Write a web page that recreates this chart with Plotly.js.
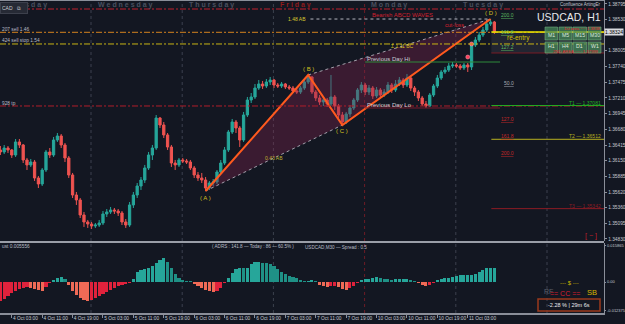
<!DOCTYPE html>
<html><head><meta charset="utf-8">
<script src="https://cdn.plot.ly/plotly-3.0.1.min.js"></script>
<style>html,body{margin:0;padding:0;background:#131722;overflow:hidden}</style>
</head><body><div id="chart" style="width:625px;height:324px"></div>
<script>
// ---------- DATA (USDCAD H1, 4 Oct 00:00 -> 11 Oct 10:00) ----------
const opens=[1.36332,1.36298,1.36365,1.36332,1.36247,1.36467,1.36416,1.36163,1.36079,1.36129,
1.35859,1.35758,1.35994,1.36298,1.36247,1.36500,1.36568,1.36416,1.36197,1.35910,
1.35572,1.35488,1.35235,1.35117,1.35083,1.35049,1.35066,1.35100,1.35252,1.35286,
1.35319,1.35302,1.35269,1.35117,1.35066,1.35404,1.35572,1.35724,1.35825,1.36028,
1.36247,1.36365,1.36871,1.36753,1.36585,1.36382,1.36112,1.36079,1.36163,1.36146,
1.36129,1.36028,1.35910,1.35859,1.35825,1.35690,1.35775,1.35792,1.35960,1.36112,
1.36332,1.36635,1.36804,1.36703,1.36500,1.36922,1.37175,1.37226,1.37377,1.37445,
1.37411,1.37479,1.37512,1.37428,1.37411,1.37445,1.37394,1.37377,1.37327,1.37310,
1.37377,1.37479,1.37563,1.37310,1.37209,1.37141,1.37175,1.37108,1.37226,1.37074,
1.36922,1.36804,1.36939,1.37040,1.37175,1.37344,1.37428,1.37310,1.37377,1.37243,
1.37344,1.37259,1.37310,1.37428,1.37344,1.37445,1.37512,1.37428,1.37546,1.37377,
1.37310,1.37209,1.37108,1.37074,1.37259,1.37411,1.37546,1.37647,1.37681,1.37749,
1.37765,1.37749,1.37715,1.37765,1.37732,1.38103,1.38187,1.38272,1.38356,1.38457,
1.38491];
const highs=[1.36399,1.36416,1.36399,1.36348,1.36517,1.36517,1.36433,1.36197,1.36180,1.36163,
1.35893,1.36028,1.36332,1.36365,1.36551,1.36618,1.36601,1.36450,1.36230,1.35944,
1.35623,1.35522,1.35286,1.35151,1.35117,1.35100,1.35151,1.35302,1.35336,1.35370,
1.35353,1.35336,1.35302,1.35167,1.35454,1.35623,1.35775,1.35876,1.36079,1.36298,
1.36416,1.36922,1.36888,1.36804,1.36618,1.36416,1.36163,1.36197,1.36197,1.36180,
1.36163,1.36062,1.35960,1.35944,1.35876,1.35809,1.35842,1.35994,1.36163,1.36382,
1.36669,1.36855,1.36838,1.36736,1.36973,1.37226,1.37293,1.37445,1.37512,1.37496,
1.37529,1.37563,1.37529,1.37462,1.37479,1.37462,1.37428,1.37411,1.37361,1.37411,
1.37512,1.37597,1.37580,1.37344,1.37259,1.37226,1.37209,1.37597,1.37259,1.37108,
1.36973,1.36973,1.37091,1.37209,1.37377,1.37479,1.37462,1.37428,1.37411,1.37394,
1.37377,1.37361,1.37479,1.37462,1.37512,1.37563,1.37546,1.37614,1.37580,1.37411,
1.37344,1.37243,1.37158,1.37293,1.37445,1.37597,1.37681,1.37732,1.37799,1.37816,
1.37799,1.37782,1.37799,1.37799,1.38153,1.38238,1.38322,1.38407,1.38508,1.38541,
1.38508];
const lows=[1.36247,1.36264,1.36281,1.36197,1.36214,1.36365,1.36112,1.35994,1.36045,1.35809,
1.35690,1.35724,1.35960,1.36197,1.36214,1.36467,1.36365,1.36129,1.35859,1.35522,
1.35404,1.35184,1.35033,1.35016,1.34999,1.35016,1.35033,1.35066,1.35201,1.35252,
1.35252,1.35218,1.35066,1.35016,1.35033,1.35353,1.35522,1.35657,1.35775,1.35994,
1.36163,1.36332,1.36703,1.36534,1.36332,1.36045,1.35994,1.36045,1.36112,1.36095,
1.35994,1.35859,1.35809,1.35775,1.35640,1.35657,1.35724,1.35758,1.35927,1.36079,
1.36298,1.36601,1.36618,1.36382,1.36467,1.36888,1.37124,1.37192,1.37344,1.37361,
1.37377,1.37428,1.37377,1.37377,1.37377,1.37361,1.37344,1.37293,1.37276,1.37276,
1.37344,1.37445,1.37276,1.37158,1.37091,1.37074,1.37057,1.37074,1.37006,1.36871,
1.36753,1.36770,1.36888,1.37006,1.37141,1.37293,1.37259,1.37259,1.37192,1.37209,
1.37209,1.37226,1.37276,1.37293,1.37310,1.37411,1.37377,1.37394,1.37327,1.37243,
1.37158,1.37074,1.37040,1.37057,1.37226,1.37377,1.37512,1.37614,1.37647,1.37715,
1.37715,1.37681,1.37681,1.37647,1.37681,1.38069,1.38153,1.38238,1.38322,1.38423,
1.38288];
const closes=[1.36298,1.36365,1.36332,1.36247,1.36467,1.36416,1.36163,1.36079,1.36129,1.35859,
1.35758,1.35994,1.36298,1.36247,1.36500,1.36568,1.36416,1.36197,1.35910,1.35572,
1.35488,1.35235,1.35117,1.35083,1.35049,1.35066,1.35100,1.35252,1.35286,1.35319,
1.35302,1.35269,1.35117,1.35066,1.35404,1.35572,1.35724,1.35825,1.36028,1.36247,
1.36365,1.36871,1.36753,1.36585,1.36382,1.36112,1.36079,1.36163,1.36146,1.36129,
1.36028,1.35910,1.35859,1.35825,1.35690,1.35775,1.35792,1.35960,1.36112,1.36332,
1.36635,1.36804,1.36703,1.36500,1.36922,1.37175,1.37226,1.37377,1.37445,1.37411,
1.37479,1.37512,1.37428,1.37411,1.37445,1.37394,1.37377,1.37327,1.37310,1.37377,
1.37479,1.37563,1.37310,1.37209,1.37141,1.37175,1.37108,1.37226,1.37074,1.36922,
1.36804,1.36939,1.37040,1.37175,1.37344,1.37428,1.37310,1.37377,1.37243,1.37344,
1.37259,1.37310,1.37428,1.37344,1.37445,1.37512,1.37428,1.37546,1.37377,1.37310,
1.37209,1.37108,1.37074,1.37259,1.37411,1.37546,1.37647,1.37681,1.37749,1.37765,
1.37749,1.37715,1.37765,1.37732,1.38103,1.38187,1.38272,1.38356,1.38457,1.38491,
1.38322];
// oscillator histogram (lower panel)
const osc=[-0.0080,-0.0071,-0.0059,-0.0046,-0.0038,-0.0029,-0.0025,-0.0021,-0.0025,-0.0029,
-0.0034,-0.0038,-0.0021,-0.0004,0.0008,0.0017,0.0023,0.0013,-0.0013,-0.0038,
-0.0055,-0.0067,-0.0076,-0.0080,-0.0076,-0.0067,-0.0059,-0.0050,-0.0042,-0.0034,
-0.0025,-0.0017,-0.0013,-0.0008,-0.0004,0.0013,0.0042,0.0050,0.0055,0.0059,
0.0067,0.0084,0.0097,0.0103,0.0088,0.0059,0.0034,0.0017,0.0008,0.0006,
0.0004,-0.0008,-0.0017,-0.0025,-0.0034,-0.0038,-0.0042,-0.0038,-0.0025,-0.0004,
0.0017,0.0038,0.0055,0.0061,0.0059,0.0059,0.0076,0.0088,0.0088,0.0084,
0.0082,0.0076,0.0067,0.0055,0.0042,0.0034,0.0025,0.0021,0.0017,0.0011,
0.0006,0.0006,0.0008,0.0004,-0.0013,-0.0017,-0.0021,-0.0017,-0.0017,-0.0021,
-0.0029,-0.0034,-0.0025,-0.0017,-0.0004,0.0008,0.0013,0.0015,0.0017,0.0021,
0.0019,0.0015,0.0013,0.0011,0.0013,0.0015,0.0015,0.0015,0.0011,0.0004,
-0.0004,-0.0011,-0.0015,-0.0013,-0.0004,0.0008,0.0015,0.0019,0.0019,0.0021,
0.0027,0.0029,0.0029,0.0029,0.0029,0.0034,0.0044,0.0050,0.0059,0.0061,
0.0061];
const tickIdx=[3,11,19,27,35,43,51,59,67,75,83,91,99,107,115,123];
const tickText=['4 Oct 03:00','4 Oct 11:00','4 Oct 19:00','5 Oct 03:00','5 Oct 11:00','5 Oct 19:00',
'6 Oct 03:00','6 Oct 11:00','6 Oct 19:00','7 Oct 03:00','7 Oct 11:00','7 Oct 19:00',
'10 Oct 03:00','10 Oct 11:00','10 Oct 19:00','11 Oct 03:00'];
const dayIdx=[0,24,48,72,96,120,144];
const dayNames=['Tuesday','Wednesday','Thursday','Friday','Monday','Tuesday',''];
const priceTicks=[1.38795,1.38530,1.38005,1.37740,1.37475,1.37210,1.36945,1.36680,1.36415,1.36150,1.35885,1.35620,1.35360,1.35095,1.34830];
const oscTicks=[0.015865,0,-0.012375];
const oscTickText=['0.015865','0.00','-0.012375'];
const lastPrice=1.38324;
const ptA=54, ptB=81, ptC=90, ptD=129;          // ABCD pivot bars
const prevDayStart=96, prevDayEnd=119;            // Monday 10 Oct bars
const topLevel=1.38710, sellLevel=1.38317, sellStopLevel=1.38120, tpLevel=1.37074;
const targetNames=['T1 — 1.37081','T2 — 1.36512','T3 — 1.35342'];
const targetPrices=[1.37081,1.36512,1.35342];
const fibUpText=['200.0','161.8','127.2'], fibUpPrices=[1.38609,1.38322,1.38069];
const fibMidText='50.0', fibMidPrice=1.37462;
const fibDnText=['127.0','161.8','200.0'], fibDnPrices=[1.36855,1.36568,1.36281];
const reentryTop=1.38322, reentryBottom=1.37968;
const signalIdx=[123,124], signalPrice=[1.37900,1.38120];

// ---------- DRAWING ----------
const FONT='Liberation Sans, Arial, sans-serif';
const PW=604, PH=313;
const px=x=>x/PW, py=y=>1-y/PH;
const idx=closes.map((_,i)=>i);
const xRange=[-0.1,158.85];
const pdHi=Math.max(...highs.slice(prevDayStart,prevDayEnd+1));
const pdLo=Math.min(...lows.slice(prevDayStart,prevDayEnd+1));
const A=lows[ptA], B=highs[ptB], C=lows[ptC], D=highs[ptD];

const traces=[];
traces.push({type:'scatter',mode:'lines',x:[ptA,ptB,ptD,ptC,ptA],y:[A,B,D,C,A],fill:'toself',
  fillcolor:'rgba(128,36,78,0.36)',line:{width:0},hoverinfo:'skip'});
traces.push({type:'candlestick',x:idx,open:opens,high:highs,low:lows,close:closes,whiskerwidth:0,
  increasing:{line:{color:'#26a69a',width:1},fillcolor:'#26a69a'},
  decreasing:{line:{color:'#ef5350',width:1},fillcolor:'#ef5350'},hoverinfo:'skip'});
traces.push({type:'scatter',mode:'lines',x:[ptB,ptD],y:[B,D],line:{color:'rgba(205,205,215,0.75)',width:1,dash:'dot'},hoverinfo:'skip'});
traces.push({type:'scatter',mode:'lines',x:[ptA,ptC],y:[A,C],line:{color:'rgba(205,205,215,0.75)',width:1,dash:'dot'},hoverinfo:'skip'});
traces.push({type:'scatter',mode:'lines',x:[ptB+0.6,ptD],y:[D,D],line:{color:'rgba(220,220,230,0.8)',width:1,dash:'dot'},hoverinfo:'skip'});
traces.push({type:'scatter',mode:'lines',x:[ptA,ptB,ptC,ptD],y:[A,B,C,D],line:{color:'#ff5a1e',width:2},hoverinfo:'skip'});
traces.push({type:'scatter',mode:'markers',x:signalIdx,y:signalPrice,marker:{color:'#ff3d5a',size:4,line:{color:'#ffb0b8',width:0.5}},hoverinfo:'skip'});
const oscColors=osc.map((v,i)=>{const p=i?osc[i-1]:v; if(v>=0) return v>=p?'#26a69a':'#1f9186'; return v>=p?'#e0223c':'#ef6a56';});
traces.push({type:'bar',x:idx,y:osc,xaxis:'x',yaxis:'y2',width:0.8,marker:{color:oscColors,line:{width:0}},hoverinfo:'skip'});

const shapes=[];
const grey='#8a8e99';
shapes.push({type:'line',xref:'paper',yref:'paper',x0:0,x1:1,y0:py(0.5),y1:py(0.5),line:{color:grey,width:1}});
shapes.push({type:'line',xref:'paper',yref:'paper',x0:0,x1:1,y0:py(242),y1:py(242),line:{color:'#9a9ea8',width:2}});
dayIdx.slice(1).forEach((k,j)=>{
  const red=dayNames[j+1]==='Monday';
  shapes.push({type:'line',xref:'x',yref:'paper',x0:k-0.15,x1:k-0.15,y0:0,y1:1,layer:'below',
    line:{color:red?'#6e1c26':'#3c414e',width:1,dash:'dot'}});
});
const dd='6px,2px,2px,2px';
[[topLevel,'#c0202c'],[sellLevel,'#d4821e'],[sellStopLevel,'#c8b414'],[tpLevel,'#b01e2a']].forEach(([v,c])=>{
  shapes.push({type:'line',xref:'paper',yref:'y',x0:0,x1:1,y0:v,y1:v,line:{color:c,width:1,dash:dd}});
});
shapes.push({type:'rect',xref:'x',yref:'y',x0:ptD+0.2,x1:xRange[1],y0:reentryBottom,y1:reentryTop,fillcolor:'rgba(38,40,52,0.85)',line:{width:0},layer:'below'});
shapes.push({type:'line',xref:'x',yref:'y',x0:ptD+0.2,x1:xRange[1],y0:reentryBottom,y1:reentryBottom,line:{color:'#7a1c26',width:1}});
shapes.push({type:'line',xref:'x',yref:'y',x0:prevDayStart,x1:131.5,y0:pdHi,y1:pdHi,line:{color:'#2e8b3a',width:1}});
shapes.push({type:'line',xref:'x',yref:'y',x0:prevDayStart,x1:131.5,y0:pdLo,y1:pdLo,line:{color:'#7a1c2e',width:1}});
const tCol=['#22b022','#b8b020','#8c1c24'];
targetPrices.forEach((v,i)=>shapes.push({type:'line',xref:'x',yref:'y',x0:ptD+0.2,x1:xRange[1],y0:v,y1:v,line:{color:tCol[i],width:1}}));
shapes.push({type:'line',xref:'x',yref:'y',x0:ptD+0.2,x1:xRange[1],y0:lastPrice,y1:lastPrice,line:{color:'#e8e400',width:1.5}});
// buttons
const bx=[[545,557.5],[559,572],[573,586.5],[588,601]];
const by=[[27,40],[42,53]];
const bLab=[['M1','M5','M15','M30'],['H1','H4','D1','W1']];
by.forEach(r=>bx.forEach(c=>shapes.push({type:'rect',xref:'paper',yref:'paper',x0:px(c[0]),x1:px(c[1]),y0:py(r[1]),y1:py(r[0]),
  fillcolor:'rgba(72,140,92,0.72)',line:{color:'rgba(120,180,130,0.8)',width:0.7}})));
// bottom box
shapes.push({type:'rect',xref:'paper',yref:'paper',x0:px(538),x1:px(600),y0:py(311),y1:py(299),line:{color:'#9c3a1c',width:1.5}});

const ann=[];
const T=(x,y,text,o={})=>ann.push(Object.assign({x,y,text,showarrow:false,xref:'paper',yref:'paper',
  font:{family:FONT,size:o.size||5,color:o.color||'#b8bcc6'},xanchor:o.xa||'center',yanchor:'middle'},o.extra||{}));
// day headers
dayIdx.forEach((k,j)=>{ if(!dayNames[j]) return;
  ann.push({x:k+1.1,y:py(5.5),xref:'x',yref:'paper',text:dayNames[j].split('').join(' '),showarrow:false,xanchor:'left',yanchor:'middle',
   font:{family:FONT,size:7,color:dayNames[j]==='Friday'?'#8e1c1c':'#4a505f',weight:'bold'}});
});
// symbol box top-left (covers first header)
ann.push({x:0,y:py(7.5),xref:'paper',yref:'paper',xanchor:'left',yanchor:'middle',showarrow:false,text:'CAD &nbsp; ⧉',
  bgcolor:'#262a35',bordercolor:'#3c404c',borderwidth:1,width:24,height:8,align:'left',font:{family:FONT,size:5,color:'#c8ccd4'}});
// level labels at left edge
ann.push({x:0,y:sellLevel,xref:'paper',yref:'y',yshift:3,xanchor:'left',showarrow:false,text:'207 sell 1.46',font:{family:FONT,size:4.8,color:'#b8bcc6'}});
ann.push({x:0,y:sellStopLevel,xref:'paper',yref:'y',yshift:3,xanchor:'left',showarrow:false,text:'424 sell stop 1.54',font:{family:FONT,size:4.8,color:'#b8bcc6'}});
ann.push({x:0,y:tpLevel,xref:'paper',yref:'y',yshift:2.5,xanchor:'left',showarrow:false,text:'928 tp',font:{family:FONT,size:4.8,color:'#b8bcc6'}});
// ABCD labels
const yl='#d4c020';
ann.push({x:ptA,y:A,yshift:-7,showarrow:false,text:'( A )',font:{family:FONT,size:6,color:yl}});
ann.push({x:ptB,y:B,yshift:6,showarrow:false,text:'( B )',font:{family:FONT,size:6,color:yl}});
ann.push({x:ptC,y:C,yshift:-6,showarrow:false,text:'( C )',font:{family:FONT,size:6,color:yl}});
ann.push({x:ptD,y:D,yshift:6,showarrow:false,text:'( D )',font:{family:FONT,size:6,color:yl}});
ann.push({x:ptB,y:D,xanchor:'right',showarrow:false,text:'1.48 AB',font:{family:FONT,size:5,color:'#d8c830'}});
ann.push({x:72.1,y:1.36197,showarrow:false,text:'0.43 AB',font:{family:FONT,size:5,color:'#c0b030'}});
ann.push({x:105.8,y:1.38086,showarrow:false,text:'Σ 1.11 BC',font:{family:FONT,size:5,color:yl}});
ann.push({x:105.7,y:1.38609,showarrow:false,text:'Bearish ABCD WAVES',font:{family:FONT,size:6,color:'#d0202e'}});
ann.push({x:119.6,y:1.38440,showarrow:false,text:'cut-loss',font:{family:FONT,size:5.5,color:'#d8202e'}});
ann.push({x:prevDayStart,y:pdHi,yshift:3.5,xanchor:'left',showarrow:false,text:'Previous Day Hi',font:{family:FONT,size:6,color:'#c8ccd4'}});
ann.push({x:prevDayStart,y:pdLo,yshift:2.5,xanchor:'left',showarrow:false,text:'Previous Day Lo',font:{family:FONT,size:6,color:'#c8ccd4'}});
// fib labels
fibUpText.forEach((t,i)=>ann.push({x:ptD+2.3,y:fibUpPrices[i],xanchor:'left',showarrow:false,text:t,font:{family:FONT,size:5,color:'#5cb860',lineposition:'under'}}));
ann.push({x:ptD+3,y:fibMidPrice,xanchor:'left',showarrow:false,text:fibMidText,font:{family:FONT,size:5,color:'#a8acb4',lineposition:'under'}});
fibDnText.forEach((t,i)=>ann.push({x:ptD+2.3,y:fibDnPrices[i],xanchor:'left',showarrow:false,text:t,font:{family:FONT,size:5,color:'#c62828',lineposition:'under'}}));
ann.push({x:ptD+7.4,y:1.38221,showarrow:false,text:'re-entry',font:{family:FONT,size:6.5,color:'#d8c400'}});
targetNames.forEach((t,i)=>ann.push({x:1,y:targetPrices[i],xref:'paper',xanchor:'right',xshift:-1,yshift:3,showarrow:false,text:t,font:{family:FONT,size:5,color:tCol[i]}}));
// current price tag
ann.push({x:1,y:lastPrice,xref:'paper',yref:'y',xanchor:'left',xshift:0,showarrow:false,text:'1.38324',bgcolor:'#d8dade',borderpad:0,font:{family:FONT,size:5,color:'#000'}});
// info panel
T(px(603),py(17),'USDCAD, H1',{size:10.5,color:'#e8eaed',xa:'right'});
T(px(580),py(5),'Confluence ArtingEr',{size:4.5,color:'#c0c4cc'});
bLab.forEach((row,r)=>row.forEach((t,c)=>T(px((bx[c][0]+bx[c][1])/2),py((by[r][0]+by[r][1])/2+(r?-1:1)),t,{size:5.2,color:'#dde8dd'})));
T(px(582),py(28.3),'1st area ···· 1.3838',{size:4.2,color:'#e02030'});
T(px(576),py(52),'2ND AREA ····· 1.37999',{size:4.2,color:'#e02030'});
T(px(591),py(236),'[ − ]',{size:7,color:'#c0202a'});
// indicator texts
T(0,py(246.5),'ust 0.005556',{xa:'left',size:4.8});
T(px(252.5),py(246.5),'( ADRS : 141.8 — Today : 86 — 60.5% )',{size:4.6});
T(px(303),py(247),'USDCAD,M30 — Spread : 0.5',{xa:'left',size:4.6});
T(px(569),py(283),'--- $ ---',{size:6,color:'#c8b400'});
T(px(548.5),py(291),'RF',{size:7,color:'#5c606a'});
T(px(565),py(293),'== CC ==',{size:7,color:'#d81e30'});
T(px(591.5),py(292),'SB',{size:7.5,color:'#d8b800'});
T(px(569),py(305),'-2.28 % | 29m 6s',{size:5.5,color:'#e8eaed'});

const yTickFont={size:4.8,color:'#c4c8d0'};
const layout={
  width:625,height:324,margin:{l:0,r:21,t:0,b:11},
  paper_bgcolor:'#131722',plot_bgcolor:'#131722',showlegend:false,boxgap:0.15,
  font:{family:FONT,color:'#c4c8d0'},
  xaxis:{range:xRange,anchor:'y2',tickvals:tickIdx,ticktext:tickText,ticks:'outside',ticklen:3,tickcolor:grey,tickangle:0,
    tickfont:{size:4.8,color:'#c4c8d0'},ticklabelposition:'outside right',showgrid:false,zeroline:false,
    showline:true,linecolor:grey,linewidth:1.5,rangeslider:{visible:false},fixedrange:true},
  yaxis:{domain:[1-241/PH,1],range:[1.34796,1.38862],side:'right',tickvals:priceTicks,tickformat:'.5f',ticks:'outside',ticklen:2,
    ticklabelstandoff:0,tickcolor:grey,tickfont:yTickFont,showgrid:false,zeroline:false,showline:true,linecolor:grey,linewidth:1.2,fixedrange:true},
  yaxis2:{domain:[0,70/PH],range:[-0.0133,0.0168],side:'right',tickvals:oscTicks,ticktext:oscTickText,ticks:'outside',ticklen:1,
    ticklabelstandoff:0,tickcolor:grey,tickfont:{size:4,color:'#c4c8d0'},showgrid:false,zeroline:false,showline:true,linecolor:grey,linewidth:1.2,fixedrange:true},
  bargap:0,shapes,annotations:ann
};
Plotly.newPlot('chart',traces,layout,{staticPlot:true,displayModeBar:false});
</script></body></html>
